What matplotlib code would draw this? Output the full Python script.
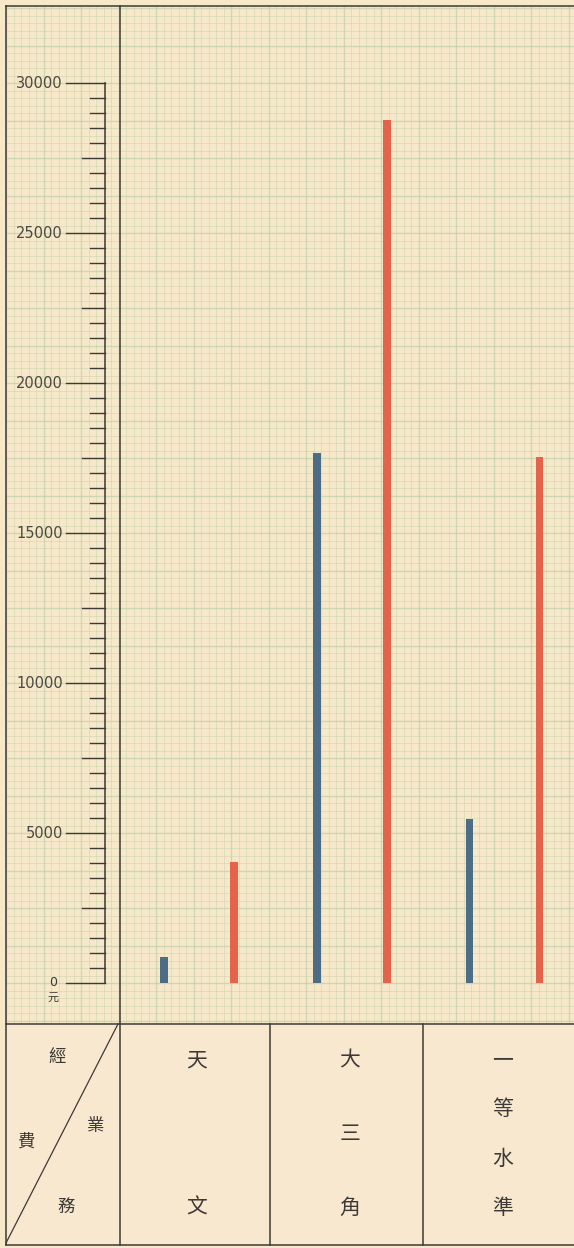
import matplotlib
matplotlib.use("Agg")
import matplotlib.pyplot as plt
import matplotlib.transforms as mtransforms
import numpy as np

plt.rcParams['font.family'] = ['Noto Sans CJK TC', 'DejaVu Sans']

# data (yen)
categories = ['天文', '大三角', '一等水準']
cat_labels = [['天', '文'], ['大', '三', '角'], ['一', '等', '水', '準']]
blue_vals = [870, 17670, 5470]
red_vals = [4030, 28770, 17530]
yticks_major = [0, 5000, 10000, 15000, 20000, 25000, 30000]
ytick_labels = ['0', '5000', '10000', '15000', '20000', '25000', '30000']

W, H = 574, 1248
paper = '#f7e8c9'
grid_c = '#c5d2ab'
ink = '#3c3a36'
blue = '#4d6c86'
red = '#e3644a'

fig = plt.figure(figsize=(W / 100, H / 100), dpi=100)
fig.patch.set_facecolor(paper)

# background in pixel coordinates
bg = fig.add_axes([0, 0, 1, 1])
bg.set_xlim(0, W)
bg.set_ylim(H, 0)
bg.axis('off')

top_px, table_px, bottom_px = 6, 1024, 1245
left_px, div_px, right_px = 6, 120, 574
zero_px, top_val_px = 983, 83

# graph-paper grid
for i, gx in enumerate(np.arange(left_px, right_px, 7.5)):
    bg.plot([gx, gx], [top_px, table_px], color=grid_c,
            lw=1.0 if i % 5 == 0 else 0.6, alpha=0.8 if i % 5 == 0 else 0.55, zorder=0)
for i, gy in enumerate(np.arange(zero_px + 37.5, top_px, -7.5)):
    if gy > table_px:
        continue
    bg.plot([left_px, right_px], [gy, gy], color=grid_c,
            lw=1.0 if i % 5 == 0 else 0.6, alpha=0.8 if i % 5 == 0 else 0.55, zorder=0)

# table background
bg.add_patch(plt.Rectangle((left_px, table_px), right_px - left_px, bottom_px - table_px,
                           facecolor='#f9e8d0', edgecolor='none', zorder=0.5))

# frame lines
frame = dict(color=ink, lw=1.1, zorder=3)
bg.plot([left_px, right_px], [top_px, top_px], **frame)
bg.plot([left_px, left_px], [top_px, bottom_px], **frame)
bg.plot([div_px, div_px], [top_px, bottom_px], **frame)
bg.plot([left_px, right_px], [table_px, table_px], **frame)
bg.plot([left_px, right_px], [bottom_px, bottom_px], **frame)
for cx in [270, 423]:
    bg.plot([cx, cx], [table_px, bottom_px], **frame)
bg.plot([div_px - 2, left_px], [table_px, bottom_px - 2], color=ink, lw=0.9, zorder=3)

# header cell
hdr = dict(fontsize=12.5, color=ink, ha='center', va='center', zorder=4)
bg.text(57, 1058, '經', **hdr)
bg.text(26, 1142, '費', **hdr)
bg.text(96, 1126, '業', **hdr)
bg.text(66, 1207, '務', **hdr)

# chart axes (values)
def px_to_val(p):
    return (zero_px - p) * 30000 / (zero_px - top_val_px)

ax = fig.add_axes([left_px / W, 1 - table_px / H, (right_px - left_px) / W,
                   (table_px - top_px) / H])
ax.patch.set_alpha(0)
ax.axis('off')
ax.set_ylim(px_to_val(table_px), px_to_val(top_px))
center0, step = 199, 152.8
ax.set_xlim((left_px - center0) / step, (right_px - center0) / step)

x = np.arange(len(categories))
off, bw = 35 / step, 7.5 / step
ax.bar(x - off, blue_vals, width=bw, color=blue, zorder=3)
ax.bar(x + off, red_vals, width=bw, color=red, zorder=3)

# category labels in table
for i, chars in enumerate(cat_labels):
    cx = center0 + i * step - 2
    n = len(chars)
    ys = np.linspace(1060, 1208, n)
    for ch, cy in zip(chars, ys):
        bg.text(cx, cy, ch, fontsize=15, color=ink, ha='center', va='center', zorder=4)

# hand-drawn y scale
tr = mtransforms.blended_transform_factory(bg.transData, ax.transData)
axis_x = 105
ax.plot([axis_x, axis_x], [0, 30000], color=ink, lw=1.1, transform=tr, zorder=4)
for v in range(0, 30001, 500):
    if v % 5000 == 0:
        x0 = 66
    elif v % 2500 == 0:
        x0 = 82
    else:
        x0 = 90
    ax.plot([x0, axis_x], [v, v], color=ink, lw=1.0, transform=tr, zorder=4)
for v, lab in zip(yticks_major, ytick_labels):
    if v == 0:
        ax.text(53, v, lab, fontsize=9, color=ink, ha='center', va='center',
                family='DejaVu Sans', transform=tr)
        ax.text(53, v - 500, '元', fontsize=8, color=ink, ha='center', va='center',
                transform=tr)
    else:
        ax.text(63, v, lab, fontsize=10.5, color='#4a4844', ha='right', va='center',
                family='DejaVu Sans', transform=tr)

fig.savefig('out.png', dpi=100, facecolor=paper)
